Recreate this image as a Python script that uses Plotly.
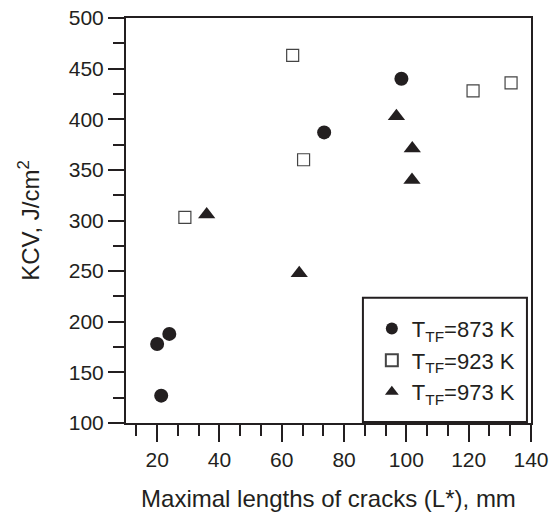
import plotly.graph_objects as go

x_873 = [20.0, 23.9, 21.3, 73.6, 98.4]
y_873 = [178, 188, 127, 387, 440]

x_923 = [28.9, 63.5, 67.0, 121.4, 133.6]
y_923 = [303, 463, 360, 428, 436]

x_973 = [35.9, 65.6, 96.8, 101.9, 101.8]
y_973 = [306, 248, 403, 371, 340]

names = ["T<sub>TF</sub>=873 K", "T<sub>TF</sub>=923 K", "T<sub>TF</sub>=973 K"]

FONT = "Liberation Sans, Arial, sans-serif"
INK = "#231f20"

fig = go.Figure()
fig.add_trace(go.Scatter(x=x_873, y=y_873, mode="markers", name=names[0],
                         marker=dict(symbol="circle", size=14, color=INK, line=dict(width=0))))
fig.add_trace(go.Scatter(x=x_923, y=y_923, mode="markers", name=names[1],
                         marker=dict(symbol="square-open", size=12, color="#444", line=dict(width=1.2))))
fig.add_trace(go.Scatter(x=x_973, y=y_973, mode="markers", name=names[2],
                         marker=dict(symbol="triangle-up", size=15, color=INK, line=dict(width=0))))

# legend frame
fig.add_shape(type="rect", xref="paper", yref="paper",
              x0=0.585, x1=0.990, y0=0.0025, y1=0.309,
              line=dict(color=INK, width=2), fillcolor="white", layer="above")

fig.update_layout(
    width=559, height=517,
    margin=dict(l=126, r=28, t=18, b=94, autoexpand=False),
    paper_bgcolor="white", plot_bgcolor="white",
    font=dict(family=FONT, size=21, color=INK),
    showlegend=True,
    legend=dict(x=0.607, y=0.155, xanchor="left", yanchor="middle",
                bgcolor="rgba(0,0,0,0)", borderwidth=0,
                font=dict(size=22), itemsizing="constant",
                tracegroupgap=0),
)

fig.update_xaxes(
    automargin=False,
    range=[10, 140], tickmode="array", tickvals=[20, 40, 60, 80, 100, 120, 140],
    ticks="outside", ticklen=17, tickwidth=2, tickcolor=INK,
    minor=dict(tickmode="array",
               tickvals=[13.333, 26.667, 33.333, 46.667, 53.333, 66.667, 73.333,
                         86.667, 93.333, 106.667, 113.333, 126.667, 133.333],
               ticks="outside", ticklen=11, tickwidth=2, tickcolor=INK),
    showline=True, linewidth=2, linecolor=INK, mirror=True,
    showgrid=False, zeroline=False,
    title=dict(text="Maximal lengths of cracks (L*), mm", standoff=20, font=dict(size=24)),
)
fig.update_yaxes(
    automargin=False,
    range=[100, 500], tickmode="array", tickvals=[100, 150, 200, 250, 300, 350, 400, 450, 500],
    ticks="outside", ticklen=16, tickwidth=2, tickcolor=INK,
    minor=dict(tickmode="array", tickvals=[125, 175, 225, 275, 325, 375, 425, 475],
               ticks="outside", ticklen=11, tickwidth=2, tickcolor=INK),
    showline=True, linewidth=2, linecolor=INK, mirror=True,
    showgrid=False, zeroline=False,
    title=dict(text="KCV, J/cm<sup>2</sup>", standoff=22, font=dict(size=24)),
)

fig.write_html("out.html")
